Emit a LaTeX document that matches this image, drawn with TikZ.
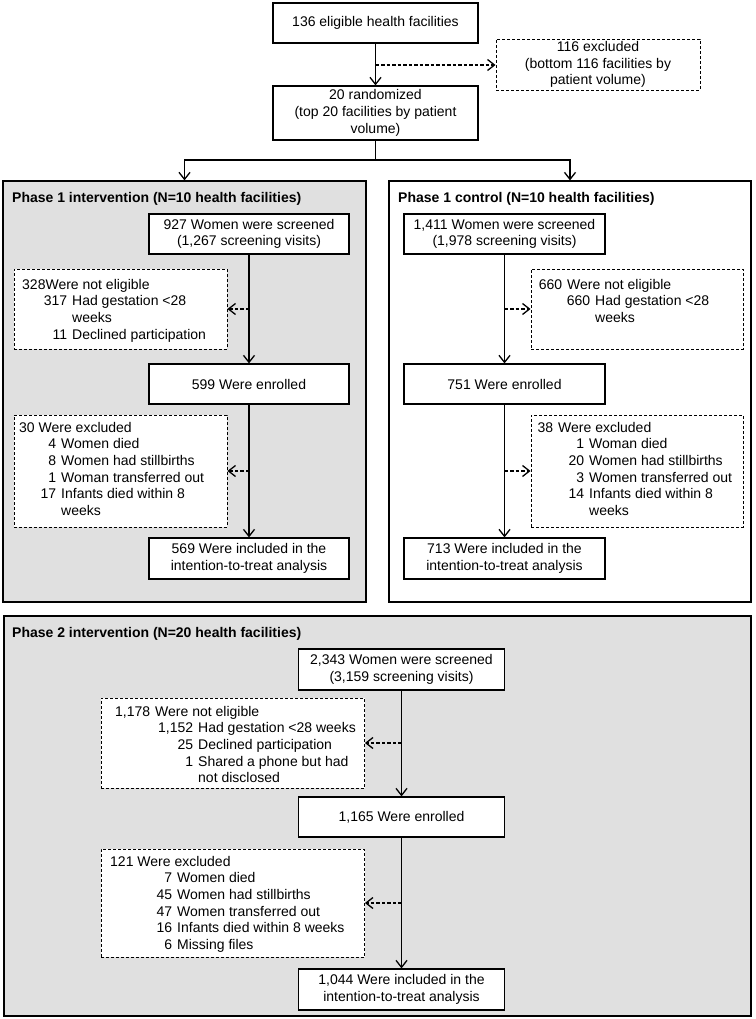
\documentclass[tikz,border=0pt]{standalone}
\usepackage{fontspec}
\setmainfont{Liberation Sans}
\usepackage{xcolor}
\usepackage{tikz}
\usetikzlibrary{arrows.meta, positioning, calc}

\definecolor{panelgray}{RGB}{224,224,224}
% number right-aligned, text starting #1pt from the left edge
\newcommand{\itm}[3]{\makebox[#1pt][r]{#2\hspace{5pt}}#3}

\begin{document}
\begin{tikzpicture}[
    x=1pt, y=-1pt,
    every node/.style={font=\fontsize{14}{16.7}\selectfont},
    panel/.style={rectangle, draw, line width=1.2pt, fill=panelgray, inner sep=0pt},
    box/.style={rectangle, draw, line width=1.2pt, fill=white, align=center, inner sep=0pt, minimum width=200pt, minimum height=40pt},
    exclbox/.style={rectangle, draw, dash pattern=on 3pt off 2pt, line width=0.9pt, fill=white, inner sep=0pt},
    head/.style={font=\fontsize{14}{16.7}\selectfont\bfseries, anchor=west, inner sep=0pt},
    list/.style={anchor=north west, align=left, inner sep=0pt},
    arrow/.style={-{Straight Barb[length=7pt,width=11pt,line width=1.3pt]}, line width=1.2pt},
    darrow/.style={arrow, dash pattern=on 3.5pt off 2pt}
]
\useasboundingbox (0,0) rectangle (755,1019);

% top of the flow
\node[box, minimum width=205pt] (elig) at (375.5,23) {136 eligible health facilities};
\node[exclbox, minimum width=204pt, minimum height=51pt, align=center] (excl) at (598,64.5)
    {116 excluded\\(bottom 116 facilities by\\patient volume)};
\node[box, minimum width=205pt, minimum height=54pt] (rand) at (375.5,113)
    {20 randomized\\(top 20 facilities by patient\\volume)};
\coordinate (exclpt) at (375.5,65);
\coordinate (split) at (375.5,160);

% panels
\node[panel, minimum width=363pt, minimum height=421pt] (ph1) at (184.5,391.5) {};
\node[panel, fill=white, minimum width=362pt, minimum height=421pt] (ctl) at (570,391.5) {};
\node[panel, minimum width=747pt, minimum height=400pt] (ph2) at (377.5,816) {};

\node[head] (ph1head) at (12,199) {Phase 1 intervention (N=10 health facilities)};
\node[head] (ctlhead) at (398,199) {Phase 1 control (N=10 health facilities)};
\node[head] (ph2head) at (12,634) {Phase 2 intervention (N=20 health facilities)};

% phase 1 intervention
\node[box] (scr1) at (249,234) {927 Women were screened\\(1,267 screening visits)};
\node[box] (enr1) at (249,384) {599 Were enrolled};
\node[box, minimum height=41pt] (inc1) at (249,558.5) {569 Were included in the\\intention-to-treat analysis};
\node[exclbox, minimum width=213pt, minimum height=80pt] (nel1) at (120.5,309) {};
\node[exclbox, minimum width=213pt, minimum height=112pt] (exc1) at (120.5,471) {};
\node[list] (nel1txt) at (22,278.7) {328Were not eligible\\
    \itm{50}{317}{Had gestation <28}\\
    \itm{50}{}{weeks}\\
    \itm{50}{11}{Declined participation}};
\node[list] (exc1txt) at (19,421.7) {30 Were excluded\\
    \itm{42}{4}{Women died}\\
    \itm{42}{8}{Women had stillbirths}\\
    \itm{42}{1}{Woman transferred out}\\
    \itm{42}{17}{Infants died within 8}\\
    \itm{42}{}{weeks}};
\coordinate (nel1pt) at (249,309);
\coordinate (exc1pt) at (249,471);

% phase 1 control
\node[box, minimum width=201pt] (scr2) at (504.5,234) {1,411 Women were screened\\(1,978 screening visits)};
\node[box, minimum width=201pt] (enr2) at (504.5,384) {751 Were enrolled};
\node[box, minimum width=201pt, minimum height=41pt] (inc2) at (504.5,558.5) {713 Were included in the\\intention-to-treat analysis};
\node[exclbox, minimum width=212pt, minimum height=80pt] (nel2) at (637,309) {};
\node[exclbox, minimum width=212pt, minimum height=112pt] (exc2) at (637,471) {};
\node[list] (nel2txt) at (538,278.7) {\itm{29}{660}{Were not eligible}\\
    \itm{57}{660}{Had gestation <28}\\
    \itm{57}{}{weeks}};
\node[list] (exc2txt) at (535,421.7) {\itm{23}{38}{Were excluded}\\
    \itm{54}{1}{Woman died}\\
    \itm{54}{20}{Women had stillbirths}\\
    \itm{54}{3}{Women transferred out}\\
    \itm{54}{14}{Infants died within 8}\\
    \itm{54}{}{weeks}};
\coordinate (nel2pt) at (504.5,309);
\coordinate (exc2pt) at (504.5,471);

% phase 2 intervention
\node[box, minimum width=206pt, minimum height=41pt] (scr3) at (401.5,669.5) {2,343 Women were screened\\(3,159 screening visits)};
\node[box, minimum width=206pt] (enr3) at (401.5,817) {1,165 Were enrolled};
\node[box, minimum width=206pt, minimum height=41pt] (inc3) at (401.5,989.5) {1,044 Were included in the\\intention-to-treat analysis};
\node[exclbox, minimum width=263.5pt, minimum height=90pt] (nel3) at (232.75,743) {};
\node[exclbox, minimum width=263.5pt, minimum height=108pt] (exc3) at (232.75,903) {};
\node[list] (nel3txt) at (112,705.7) {\itm{43}{1,178}{Were not eligible}\\
    \itm{86}{1,152}{Had gestation <28 weeks}\\
    \itm{86}{25}{Declined participation}\\
    \itm{86}{1}{Shared a phone but had}\\
    \itm{86}{}{not disclosed}};
\node[list] (exc3txt) at (110,855.7) {121 Were excluded\\
    \itm{67}{7}{Women died}\\
    \itm{67}{45}{Women had stillbirths}\\
    \itm{67}{47}{Women transferred out}\\
    \itm{67}{16}{Infants died within 8 weeks}\\
    \itm{67}{6}{Missing files}};
\coordinate (nel3pt) at (401.5,743);
\coordinate (exc3pt) at (401.5,903);

% connectors
\draw[arrow] (elig) -- (rand);
\draw[darrow] (exclpt) -- (exclpt -| excl.west);
\draw[arrow] (rand.south) -- (split) -| (ph1.north);
\draw[arrow] (split) -| (ctl.north);

\draw[arrow] (scr1) -- (enr1);
\draw[arrow] (enr1) -- (inc1);
\draw[darrow] (nel1pt) -- (nel1pt -| nel1.east);
\draw[darrow] (exc1pt) -- (exc1pt -| exc1.east);

\draw[arrow] (scr2) -- (enr2);
\draw[arrow] (enr2) -- (inc2);
\draw[darrow] (nel2pt) -- (nel2pt -| nel2.west);
\draw[darrow] (exc2pt) -- (exc2pt -| exc2.west);

\draw[arrow] (scr3) -- (enr3);
\draw[arrow] (enr3) -- (inc3);
\draw[darrow] (nel3pt) -- (nel3pt -| nel3.east);
\draw[darrow] (exc3pt) -- (exc3pt -| exc3.east);

\end{tikzpicture}
\end{document}
